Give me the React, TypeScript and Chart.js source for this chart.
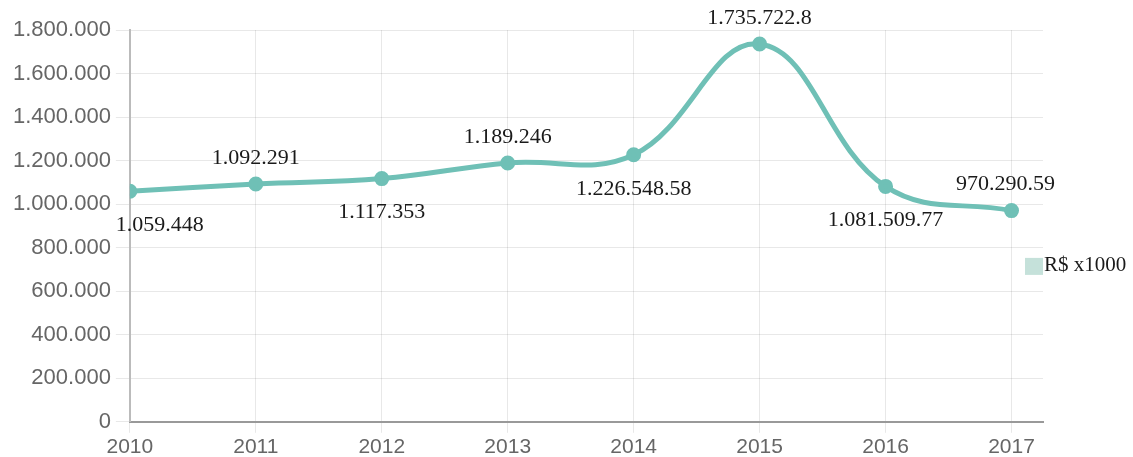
import React, { useEffect, useRef } from "react";
import { Chart, registerables } from "chart.js";

Chart.register(...registerables);

const years = [2010, 2011, 2012, 2013, 2014, 2015, 2016, 2017];
const values = [1059448, 1092291, 1117353, 1189246, 1226548.58, 1735722.8, 1081509.77, 970290.59];
const pointLabels = [
  "1.059.448",
  "1.092.291",
  "1.117.353",
  "1.189.246",
  "1.226.548.58",
  "1.735.722.8",
  "1.081.509.77",
  "970.290.59",
];
const labelSides = ["below", "above", "below", "above", "below", "above", "below", "above"];
const seriesName = "R$ x1000";
const yMax = 1800000;
const yStep = 200000;

const lineColor = "#6fc0b6";
const legendFill = "rgba(150,200,188,0.55)";

const fmtDots = (v: number) => String(Math.round(v)).replace(/\B(?=(\d{3})+(?!\d))/g, ".");

const labelPlugin = {
  id: "pointLabels",
  afterDatasetsDraw(chart: any) {
    const ctx = chart.ctx;
    const area = chart.chartArea;
    const meta = chart.getDatasetMeta(0);
    ctx.save();
    ctx.font = '22px "Liberation Serif", serif';
    ctx.fillStyle = "#1a1a1a";
    ctx.textAlign = "center";
    ctx.textBaseline = "middle";
    meta.data.forEach((pt: any, i: number) => {
      const text = pointLabels[i];
      const w = ctx.measureText(text).width;
      let x = pt.x;
      x = Math.max(area.left - 14 + w / 2, Math.min(area.right + 12 - w / 2, x));
      const y = labelSides[i] === "above" ? pt.y - 26 : pt.y + 34;
      ctx.fillText(text, x, y);
    });
    ctx.restore();
  },
};

const legendPlugin = {
  id: "sideLegend",
  afterDraw(chart: any) {
    const ctx = chart.ctx;
    const area = chart.chartArea;
    const cy = (area.top + area.bottom) / 2 + 40;
    const bx = area.right - 18;
    ctx.save();
    ctx.fillStyle = legendFill;
    ctx.fillRect(bx, cy - 8, 18, 17);
    ctx.font = '21px "Liberation Serif", serif';
    ctx.fillStyle = "#1a1a1a";
    ctx.textAlign = "left";
    ctx.textBaseline = "middle";
    ctx.fillText(seriesName, bx + 19, cy);
    ctx.restore();
  },
};

export default function App() {
  const ref = useRef<HTMLCanvasElement | null>(null);
  useEffect(() => {
    if (!ref.current) return;
    const chart = new Chart(ref.current, {
      type: "line",
      data: {
        datasets: [
          {
            label: seriesName,
            data: years.map((y, i) => ({ x: y, y: values[i] })),
            borderColor: lineColor,
            backgroundColor: legendFill,
            pointBackgroundColor: lineColor,
            pointBorderColor: lineColor,
            pointRadius: 5,
            borderWidth: 5,
            tension: 0.4,
            fill: false,
          },
        ],
      },
      options: {
        animation: false,
        responsive: true,
        maintainAspectRatio: false,
        layout: { padding: { top: 30, left: 8, right: 90, bottom: 0 } },
        plugins: {
          legend: { display: false },
          tooltip: { enabled: false },
        },
        scales: {
          x: {
            type: "linear",
            min: years[0],
            max: years[years.length - 1] + 0.25,
            afterBuildTicks: (scale: any) => {
              scale.ticks = years.map((v) => ({ value: v }));
            },
            ticks: {
              color: "#666",
              font: { family: '"Liberation Sans", sans-serif', size: 21 },
              padding: 2,
              maxRotation: 0,
              autoSkip: false,
              callback: (v: any) => String(v),
            },
            grid: { color: "rgba(0,0,0,0.09)", tickLength: 11 },
            border: { color: "#999", width: 2 },
          },
          y: {
            min: 0,
            max: yMax,
            ticks: {
              stepSize: yStep,
              color: "#666",
              font: { family: '"Liberation Sans", sans-serif', size: 22 },
              padding: 5,
              callback: (v: any) => fmtDots(Number(v)),
            },
            grid: { color: "rgba(0,0,0,0.09)", tickLength: 14 },
            border: { color: "#bbb", width: 2 },
          },
        },
      },
      plugins: [labelPlugin, legendPlugin],
    } as any);
    return () => chart.destroy();
  }, []);
  return (
    <div style={{ position: "fixed", left: 0, top: 0, width: 1133, height: 462, background: "#fff" }}>
      <canvas ref={ref} />
    </div>
  );
}
